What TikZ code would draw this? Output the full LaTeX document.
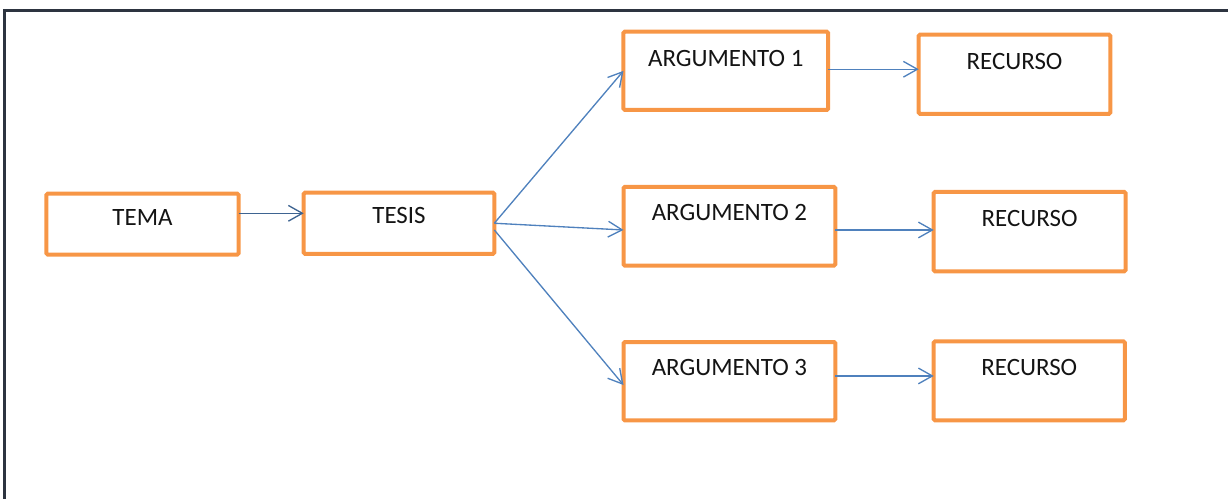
\documentclass[tikz,border=0pt]{standalone}
\usepackage{fontspec}
\setmainfont{Carlito}
\usetikzlibrary{arrows.meta}
\definecolor{boxorange}{RGB}{247,150,70}
\definecolor{linkblue}{RGB}{79,129,189}
\definecolor{darkblue}{RGB}{62,100,145}
\definecolor{framecol}{RGB}{45,52,64}
\definecolor{txt}{RGB}{20,20,20}
\tikzset{
  box/.style={draw=boxorange, line width=3pt, rounded corners=1pt, inner sep=0pt,
    outer sep=0pt, text=txt, font=\fontsize{18.7pt}{22pt}\selectfont, text height=12pt},
  link/.style={draw=linkblue, line width=1pt, -{Straight Barb[length=10.5pt,width=11.8pt]}},
  darklink/.style={link, draw=darkblue},
  frameline/.style={draw=framecol, line width=2pt}
}
\begin{document}
\begin{tikzpicture}[x=0.75pt,y=-0.75pt]
\useasboundingbox (0,0) rectangle (1228,499);
\begin{scope}
\clip (0,0) rectangle (1228,499);
\draw[frameline] (4.7,520) -- (4.7,10.7) -- (1250,10.7);
\end{scope}

\node[box, minimum width=144.3pt, minimum height=45.6pt, text depth=9.6pt] (tema) at (142.5,224.1) {TEMA};
\node[box, minimum width=142.95pt, minimum height=45.8pt, text depth=11.25pt] (tesis) at (399,223.25) {TESIS};
\node[box, minimum width=153.4pt, minimum height=58.7pt, text depth=18.75pt] (arg1) at (725.75,70.85) {ARGUMENTO 1};
\node[box, minimum width=158.85pt, minimum height=58.9pt, text depth=20.6pt] (arg2) at (729.4,226.25) {ARGUMENTO 2};
\node[box, minimum width=158.85pt, minimum height=58.7pt, text depth=20.25pt] (arg3) at (729.4,381.15) {ARGUMENTO 3};
\node[box, minimum width=143.7pt, minimum height=59.3pt, text depth=18.4pt] (rec1) at (1014.5,74.25) {RECURSO};
\node[box, minimum width=143.85pt, minimum height=59.5pt, text depth=19.5pt] (rec2) at (1029.6,231.65) {RECURSO};
\node[box, minimum width=143.3pt, minimum height=59.25pt, text depth=19.5pt] (rec3) at (1029.25,380.8) {RECURSO};

\draw[darklink] ([yshift=8.1pt]tema.east) -- ([yshift=8.1pt]tema.east -| tesis.west);
\draw[link] (tesis.east) -- (arg1.west);
\draw[link] (tesis.east) -- ([yshift=-2.8pt]arg2.west);
\draw[link] ([yshift=-5pt]tesis.east) -- ([yshift=-2.9pt]arg3.west);
\draw[link] ([yshift=1.2pt]arg1.east) -- ([yshift=1.2pt]arg1.east -| rec1.west);
\draw[link] ([yshift=-2.8pt]arg2.east) -- ([yshift=-2.8pt]arg2.east -| rec2.west);
\draw[link] ([yshift=3.9pt]arg3.east) -- ([yshift=3.9pt]arg3.east -| rec3.west);
\end{tikzpicture}
\end{document}
